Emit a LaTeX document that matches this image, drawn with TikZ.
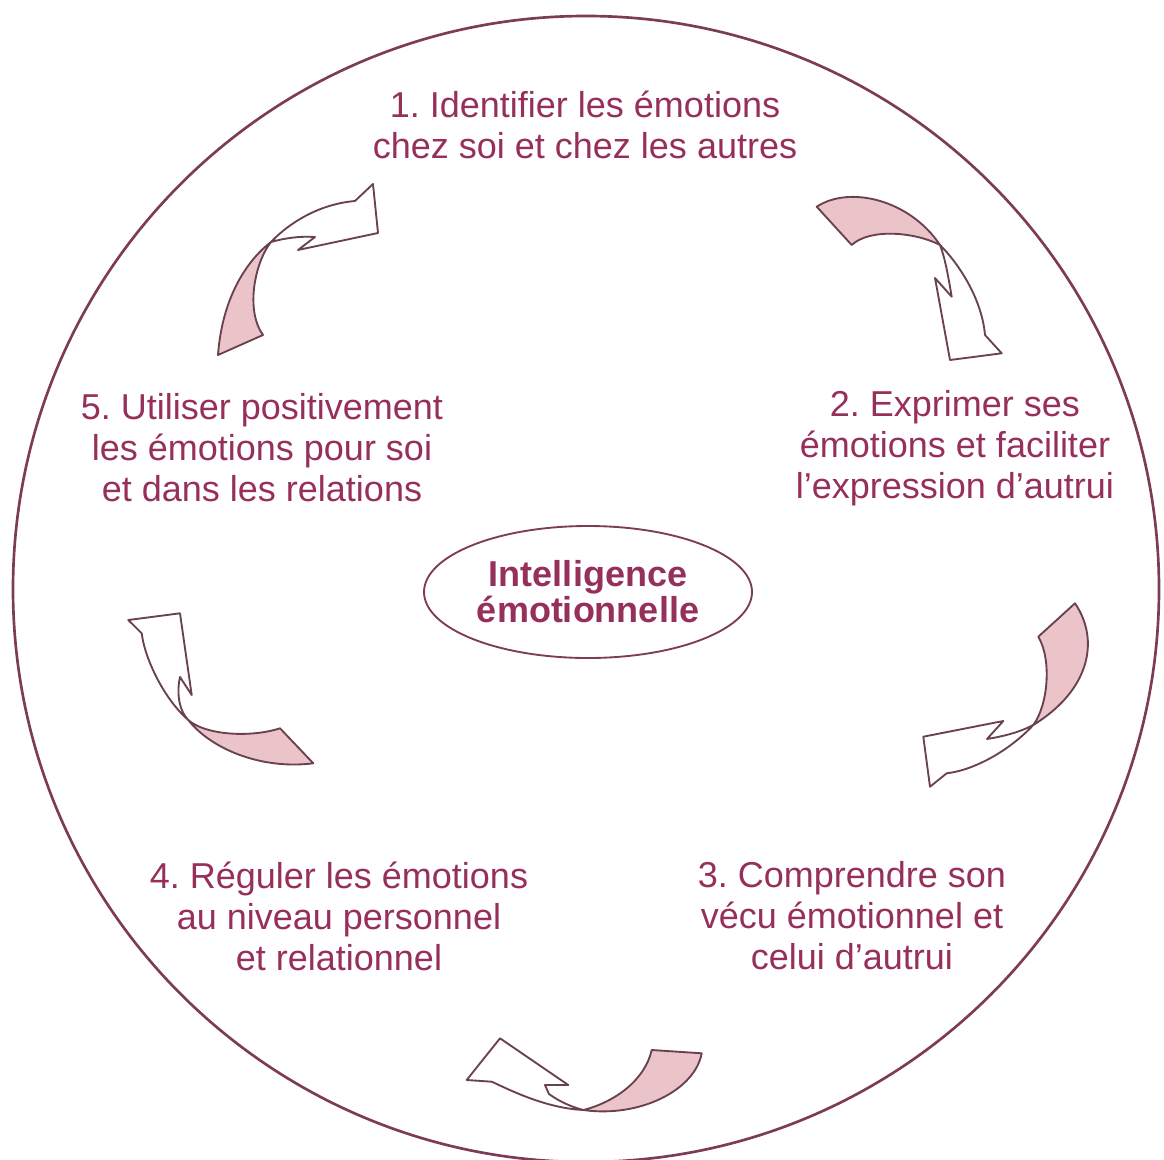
\documentclass[tikz,border=0pt]{standalone}
\usepackage{fontspec}
\setmainfont{Liberation Sans}
\usetikzlibrary{shapes.geometric}
\frenchspacing

\definecolor{labelcol}{RGB}{150,48,90}
\definecolor{ringcol}{RGB}{125,60,85}
\definecolor{arrowline}{RGB}{105,65,80}
\definecolor{arrowpink}{RGB}{234,196,200}

\tikzset{every picture/.style={line width=0.75pt}}
\tikzset{
  labeltext/.style={anchor=center, align=center, inner sep=0.75pt, text=labelcol, font=\fontsize{27}{30.75}\selectfont},
  twistback/.style={draw=arrowline, fill=arrowpink, line width=1.4, line join=round},
  twistfront/.style={draw=arrowline, fill=white, line width=1.4, line join=round}
}

\begin{document}
\begin{tikzpicture}[x=0.75pt,y=0.75pt,yscale=-1,xscale=1]
	\useasboundingbox (0,0) rectangle (1164,1160);
	
	%Shape: Circle
	\draw [color=ringcol, line width=2] (586,589) circle [radius=573];
	
	%Shape: Arrow 1 (5 to 1)
	\draw [twistback] (218,355) .. controls (222,300) and (245,262) .. (271,242) .. controls (255,262) and (245,310) .. (263,335) -- cycle;
	\draw [twistfront] (271,242) .. controls (290,222) and (320,204) .. (355,201) -- (373,184) -- (378,233) -- (298,250) -- (315,237) .. controls (300,236) and (285,238) .. (271,242) -- cycle;
	%Shape: Arrow 2 (1 to 2)
	\draw [twistback] (816.7,206.7) .. controls (850,185) and (910,200) .. (940,245) .. controls (915,232) and (870,228) .. (851.7,245) -- cycle;
	\draw [twistfront] (940,245) .. controls (960,265) and (982,300) .. (985,335) -- (1001.7,353.3) -- (950,360) -- (935,278) -- (951.7,296.7) .. controls (948,275) and (945,258) .. (940,245) -- cycle;
	%Shape: Arrow 3 (2 to 3)
	\draw [twistback] (1075,603.3) .. controls (1100,640) and (1090,690) .. (1033.3,725) .. controls (1048,705) and (1052,660) .. (1038.3,636.7) -- cycle;
	\draw [twistfront] (1033.3,725) .. controls (1010,750) and (975,770) .. (946.7,773.3) -- (930,786.7) -- (923.3,736.7) -- (1003.3,721) -- (987,739) .. controls (1005,736) and (1020,732) .. (1033.3,725) -- cycle;
	%Shape: Arrow 4 (3 to 4)
	\draw [twistback] (701.7,1053.3) .. controls (695,1090) and (640,1118) .. (583.3,1110) .. controls (615,1102) and (645,1080) .. (651.7,1050) -- cycle;
	\draw [twistfront] (583.3,1110) .. controls (545,1108) and (510,1090) .. (491.7,1081.7) -- (466.7,1080) -- (500,1038.3) -- (568.3,1085) -- (545,1085) -- (549,1094) .. controls (560,1102) and (572,1107) .. (583.3,1110) -- cycle;
	%Shape: Arrow 5 (4 to 5)
	\draw [twistback] (280,728.3) .. controls (250,738) and (205,735) .. (188.3,720) .. controls (210,748) and (260,770) .. (313.3,763.3) -- cycle;
	\draw [twistfront] (188.3,720) .. controls (165,700) and (145,660) .. (141.7,633.3) -- (128.3,620) -- (180,613.3) -- (191.7,695) -- (180,677) .. controls (176,695) and (180,712) .. (188.3,720) -- cycle;
	
	% Text Node
	\draw (588,592) node (core) [ellipse, draw=ringcol, line width=1.4, minimum width=246pt, minimum height=99pt, inner sep=0pt, align=center, text=labelcol, font=\fontsize{27}{27}\selectfont\bfseries] {Intelligence\\émotionnelle};
	% Text Node
	\draw (585,125) node (step1) [labeltext] {1. Identifier les émotions\\chez soi et chez les autres};
	% Text Node
	\draw (955,448) node (step2) [labeltext] {2. Exprimer ses\\émotions et faciliter\\l’expression d’autrui};
	% Text Node
	\draw (852,916) node (step3) [labeltext] {3. Comprendre son\\vécu émotionnel et\\celui d’autrui};
	% Text Node
	\draw (339,916) node (step4) [labeltext] {4. Réguler les émotions\\au niveau personnel\\et relationnel};
	% Text Node
	\draw (262,448) node (step5) [labeltext] {5. Utiliser positivement\\les émotions pour soi\\et dans les relations};
	
\end{tikzpicture}
\end{document}
